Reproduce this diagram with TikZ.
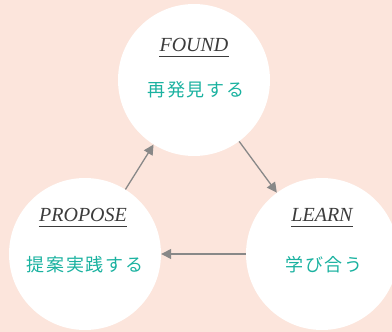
\documentclass[tikz,border=0pt]{standalone}
\usepackage{fontspec}
\setmainfont{Liberation Serif}
\newfontfamily\jpfont[LetterSpace=10]{Noto Sans CJK JP}
\usetikzlibrary{arrows.meta}
\definecolor{peach}{RGB}{252,229,220}
\definecolor{teal2}{RGB}{26,178,160}
\definecolor{arrowgray}{RGB}{136,136,136}
\definecolor{rulegray}{RGB}{60,60,60}
\tikzset{
  stage/.style={circle,fill=white,minimum size=152pt,inner sep=0pt},
  entitle/.style={font=\fontsize{20}{20}\selectfont\itshape,text=rulegray,inner sep=0pt},
  jptext/.style={font=\jpfont\fontsize{18}{18}\selectfont,text=teal2,inner sep=0pt},
  cycle/.style={draw=arrowgray,line width=1.3pt,-{Triangle[length=10pt,width=10pt]}}
}
\begin{document}
\begin{tikzpicture}[x=1pt,y=-1pt]
\fill[peach] (0,0) rectangle (392,332);
\useasboundingbox (0,0) rectangle (392,332);
% circles
\node[stage] (found) at (194,80) {};
\node[stage] (learn) at (322,254) {};
\node[stage] (propose) at (85,254) {};
% labels
\node[entitle] (foundEn) at (194,45) {FOUND};
\draw[rulegray,line width=1pt] ([yshift=-5pt]foundEn.south west) -- ([yshift=-5pt]foundEn.south east);
\node[jptext] (foundJp) at (196,90) {再発見する};
\node[entitle] (learnEn) at (322,215) {LEARN};
\draw[rulegray,line width=1pt] ([yshift=-5pt]learnEn.south west) -- ([yshift=-5pt]learnEn.south east);
\node[jptext] (learnJp) at (324,265) {学び合う};
\node[entitle] (proposeEn) at (83,215) {PROPOSE};
\draw[rulegray,line width=1pt] ([yshift=-5pt]proposeEn.south west) -- ([yshift=-5pt]proposeEn.south east);
\node[jptext] (proposeJp) at (85,265) {提案実践する};
% arrows
\draw[cycle] (found) -- (learn);
\draw[cycle] (learn) -- (propose);
\draw[cycle] (propose) -- (found);
\end{tikzpicture}
\end{document}
